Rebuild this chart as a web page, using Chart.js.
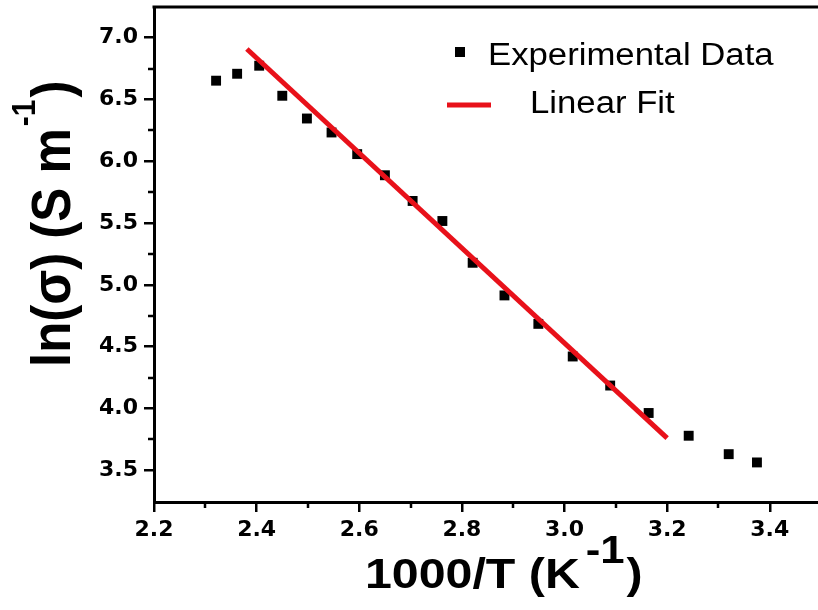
<!DOCTYPE html>
<html>
<head>
<meta charset="utf-8">
<title>ln(σ) vs 1000/T</title>
<script src="https://cdn.jsdelivr.net/npm/chart.js@4.4.1/dist/chart.umd.min.js"></script>
<style>
  html, body { margin: 0; padding: 0; background: #fff; overflow: hidden; }
  #wrap { width: 818px; height: 610px; position: relative; }
  #wrap canvas { display: block; }
</style>
</head>
<body>
<div id="wrap"><canvas id="arrhenius"></canvas></div>
<script>
// experimental points
const invTemp = [2.321, 2.362, 2.405, 2.450, 2.498, 2.546, 2.596, 2.650, 2.704, 2.762,
                 2.821, 2.883, 2.949, 3.016, 3.089, 3.164, 3.242, 3.320, 3.375];
const lnSigma = [6.652, 6.708, 6.773, 6.530, 6.346, 6.233, 6.058, 5.887, 5.679, 5.517,
                 5.179, 4.915, 4.685, 4.421, 4.186, 3.964, 3.780, 3.631, 3.564];

// linear fit, just the two end points of the drawn segment
const fitX = [2.381, 3.200];
const fitY = [6.908, 3.761];

const xTicks = [2.2, 2.4, 2.6, 2.8, 3.0, 3.2, 3.4];
const yTicks = [3.5, 4.0, 4.5, 5.0, 5.5, 6.0, 6.5, 7.0];
const xMinor = [2.3, 2.5, 2.7, 2.9, 3.1, 3.3];
const yMinor = [3.75, 4.25, 4.75, 5.25, 5.75, 6.25, 6.75];

const RED = '#e8111a';
const SANS = "'Liberation Sans', Arial, sans-serif";

// draw text stretched horizontally (the original export is a bit wide)
function wideText(ctx, txt, x, y, font, sx) {
  ctx.save();
  ctx.font = font;
  ctx.translate(x, y);
  ctx.scale(sx, 1);
  ctx.fillText(txt, 0, 0);
  const w = ctx.measureText(txt).width * sx;
  ctx.restore();
  return w;
}

// no label overhang padding, the frame is placed by hand
function noPad(s) {
  s.paddingLeft = 0; s.paddingRight = 0;
  s.paddingTop = 0; s.paddingBottom = 0;
}

const extras = {
  id: 'extras',
  afterDraw(chart) {
    const ctx = chart.ctx;
    const { left, right, top, bottom } = chart.chartArea;
    const xs = chart.scales.x, ys = chart.scales.y;

    ctx.save();
    ctx.strokeStyle = '#000';
    ctx.lineWidth = 3;
    // top of the frame
    ctx.beginPath();
    ctx.moveTo(left - 1.5, top);
    ctx.lineTo(right, top);
    ctx.stroke();

    // minor ticks
    ctx.lineWidth = 2.5;
    ctx.beginPath();
    xMinor.forEach(v => {
      const px = Math.round(xs.getPixelForValue(v));
      ctx.moveTo(px, bottom);
      ctx.lineTo(px, bottom + 6);
    });
    yMinor.forEach(v => {
      const py = Math.round(ys.getPixelForValue(v));
      ctx.moveTo(left, py);
      ctx.lineTo(left - 6, py);
    });
    ctx.stroke();

    // legend
    ctx.fillStyle = '#000';
    ctx.textBaseline = 'alphabetic';
    const data = chart.data.datasets;
    const pts = data.find(d => d.type === 'scatter');
    const fit = data.find(d => d.type === 'line');
    ctx.fillRect(455, 47, 10, 10);
    wideText(ctx, pts.label, 488, 65, '31px ' + SANS, 1.12);
    ctx.strokeStyle = fit.borderColor;
    ctx.lineWidth = fit.borderWidth;
    ctx.beginPath();
    ctx.moveTo(447, 105);
    ctx.lineTo(491, 105);
    ctx.stroke();
    wideText(ctx, fit.label, 530, 113, '31px ' + SANS, 1.12);

    // x title: 1000/T (K^-1)
    let x = 365;
    x += wideText(ctx, '1000/T (K', x, 588, 'bold 42px ' + SANS, 1.15);
    x += 6;
    x += wideText(ctx, '-1', x, 563, 'bold 38px ' + SANS, 1.15);
    x += 2;
    wideText(ctx, ')', x, 588, 'bold 42px ' + SANS, 1.15);

    // y title: ln(σ) (S m^-1), rotated
    ctx.save();
    ctx.translate(70, 367);
    ctx.rotate(-Math.PI / 2);
    ctx.scale(1, 1.1);
    ctx.font = 'bold 51px ' + SANS;
    ctx.fillText('ln(σ) (S m', 0, 0);
    let t = ctx.measureText('ln(σ) (S m').width + 2;
    ctx.font = 'bold 30px ' + SANS;
    ctx.fillText('-1', t, -32);
    t += ctx.measureText('-1').width + 2;
    ctx.font = 'bold 51px ' + SANS;
    ctx.fillText(')', t, 0);
    ctx.restore();

    ctx.restore();
  }
};

const tickFont = { family: "'DejaVu Sans', sans-serif", size: 22, weight: 'bold' };

new Chart(document.getElementById('arrhenius'), {
  data: {
    datasets: [
      {
        type: 'line',
        label: 'Linear Fit',
        data: fitX.map((v, i) => ({ x: v, y: fitY[i] })),
        borderColor: RED,
        borderWidth: 5,
        pointRadius: 0,
        order: 0
      },
      {
        type: 'scatter',
        label: 'Experimental Data',
        data: invTemp.map((v, i) => ({ x: v, y: lnSigma[i] })),
        pointStyle: 'rect',
        pointRadius: 7,
        borderWidth: 0,
        backgroundColor: '#000',
        borderColor: '#000',
        order: 1
      }
    ]
  },
  options: {
    responsive: true,
    maintainAspectRatio: false,
    animation: false,
    layout: { autoPadding: false, padding: { top: 7, right: 0, left: 0, bottom: 0 } },
    plugins: {
      legend: { display: false },
      tooltip: { enabled: false }
    },
    scales: {
      x: {
        type: 'linear',
        min: 2.2,
        max: 3.494,
        afterBuildTicks: s => { s.ticks = xTicks.map(v => ({ value: v })); },
        afterFit: s => { s.height = 108; noPad(s); },
        ticks: { font: tickFont, color: '#000', padding: 5, maxRotation: 0,
                 callback: v => v.toFixed(1) },
        grid: { drawOnChartArea: false, tickLength: 10, color: '#000', lineWidth: 2.5 },
        border: { display: true, color: '#000', width: 3 }
      },
      y: {
        type: 'linear',
        min: 3.244,
        max: 7.248,
        afterBuildTicks: s => { s.ticks = yTicks.map(v => ({ value: v })); },
        afterFit: s => { s.width = 154; noPad(s); },
        ticks: { font: tickFont, color: '#000', padding: 6,
                 callback: v => v.toFixed(1) },
        grid: { drawOnChartArea: false, tickLength: 10, color: '#000', lineWidth: 2.5 },
        border: { display: true, color: '#000', width: 3 }
      }
    }
  },
  plugins: [extras]
});
</script>
</body>
</html>
